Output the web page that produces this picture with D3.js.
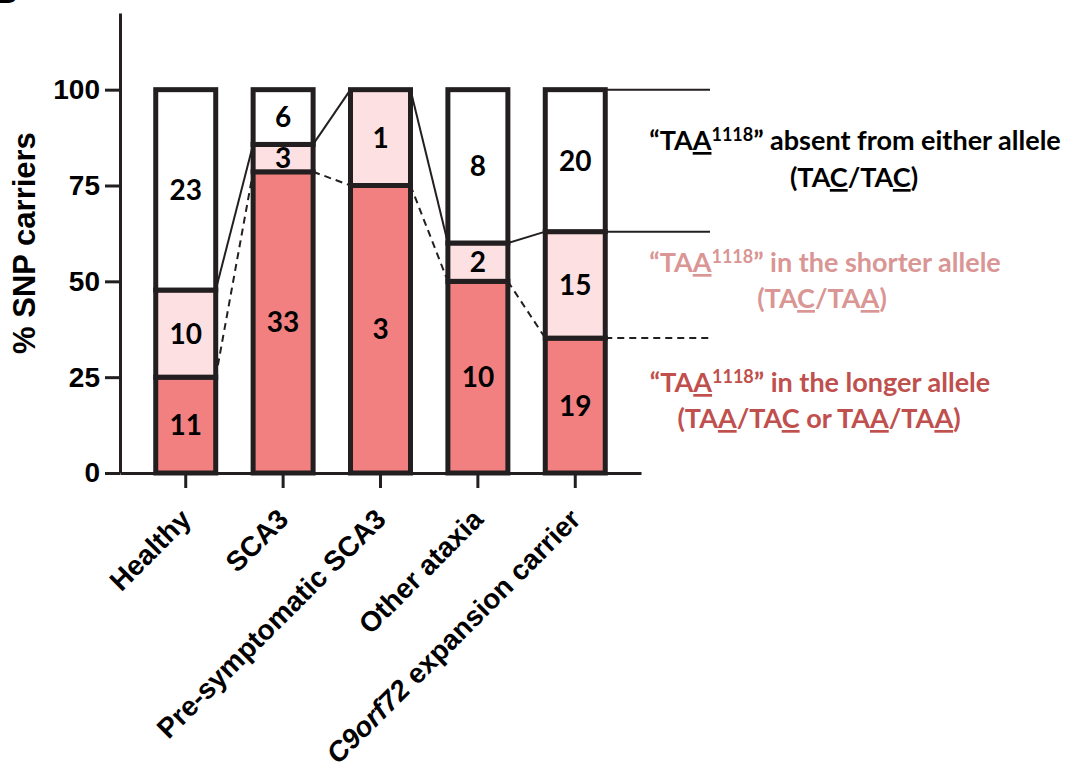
<!DOCTYPE html>
<html>
<head>
<meta charset="utf-8">
<script src="https://cdn.jsdelivr.net/npm/d3@7"></script>
<style>
  body { margin: 0; background: #fff; }
  svg { display: block; }
</style>
</head>
<body>
<div id="chart"></div>
<script>
// counts per group
var categories = ['Healthy', 'SCA3', 'Pre-symptomatic SCA3', 'Other ataxia', 'C9orf72 expansion carrier'];
var longerAllele = [11, 33, 3, 10, 19];   // TAA in the longer allele
var shorterAllele = [10, 3, 1, 2, 15];    // TAA in the shorter allele
var absentAllele = [23, 6, 0, 8, 20];     // TAA absent from either allele
var yTicks = [0, 25, 50, 75, 100];
var yTitle = '% SNP carriers';

// legend text, pieces: u = underlined, sup = superscript
var legendAbsent = [
  [{ t: '\u201CTA' }, { t: 'A', u: true }, { t: '1118', sup: true }, { t: '\u201D absent from either allele' }],
  [{ t: '(TA' }, { t: 'C', u: true }, { t: '/TA' }, { t: 'C', u: true }, { t: ')' }]
];
var legendShorter = [
  [{ t: '\u201CTA' }, { t: 'A', u: true }, { t: '1118', sup: true }, { t: '\u201D in the shorter allele' }],
  [{ t: '(TA' }, { t: 'C', u: true }, { t: '/TA' }, { t: 'A', u: true }, { t: ')' }]
];
var legendLonger = [
  [{ t: '\u201CTA' }, { t: 'A', u: true }, { t: '1118', sup: true }, { t: '\u201D in the longer allele' }],
  [{ t: '(TA' }, { t: 'A', u: true }, { t: '/TA' }, { t: 'C', u: true }, { t: ' or TA' }, { t: 'A', u: true }, { t: '/TA' }, { t: 'A', u: true }, { t: ')' }]
];

var W = 1068, H = 770;
var ink = '#231f20';
var colors = { longer: '#f28080', shorter: '#fde0e1', absent: '#ffffff' };
var axisFont = '"Liberation Sans", Arial, sans-serif';
var textFont = 'Lato, "Open Sans", sans-serif';

var svg = d3.select('#chart').append('svg')
    .attr('width', W)
    .attr('height', H);

var x = d3.scaleBand()
    .domain(categories)
    .range([120, 641])
    .paddingInner(0.384)
    .paddingOuter(0.367);
var bw = x.bandwidth();

var y = d3.scaleLinear().domain([0, 120]).range([473, 13]);

var rows = categories.map(function (c, i) {
  return { cat: c, longer: longerAllele[i], shorter: shorterAllele[i], absent: absentAllele[i] };
});
var keys = ['longer', 'shorter', 'absent'];
var stacked = d3.stack().keys(keys).offset(d3.stackOffsetExpand)(rows);

// connecting lines (behind the bars)
var lines = svg.append('g').attr('class', 'links');
function linkLevels(layer, dash) {
  for (var i = 0; i < categories.length - 1; i++) {
    lines.append('line')
        .attr('x1', x(categories[i]) + bw)
        .attr('y1', y(layer[i][1] * 100))
        .attr('x2', x(categories[i + 1]))
        .attr('y2', y(layer[i + 1][1] * 100))
        .attr('stroke', ink)
        .attr('stroke-width', 2)
        .attr('stroke-dasharray', dash);
  }
  var last = categories.length - 1;
  lines.append('line')
      .attr('x1', x(categories[last]) + bw)
      .attr('x2', 710)
      .attr('y1', y(layer[last][1] * 100))
      .attr('y2', y(layer[last][1] * 100))
      .attr('stroke', ink)
      .attr('stroke-width', 2)
      .attr('stroke-dasharray', dash);
}
linkLevels(stacked[0], '7,5');
linkLevels(stacked[1], null);
// top line right of the last bar
var lastCat = categories[categories.length - 1];
lines.append('line')
    .attr('x1', x(lastCat) + bw).attr('x2', 710)
    .attr('y1', y(100)).attr('y2', y(100))
    .attr('stroke', ink).attr('stroke-width', 2);

// stacked bars
var layers = svg.append('g').attr('class', 'bars')
  .selectAll('g')
  .data(stacked)
  .enter().append('g');

layers.selectAll('rect')
  .data(function (d) { return d.map(function (p) { return { key: d.key, p: p }; }); })
  .enter().append('rect')
    .attr('x', function (d) { return x(d.p.data.cat); })
    .attr('y', function (d) { return y(d.p[1] * 100); })
    .attr('width', bw)
    .attr('height', function (d) { return y(d.p[0] * 100) - y(d.p[1] * 100); })
    .attr('fill', function (d) { return colors[d.key]; })
    .attr('stroke', ink)
    .attr('stroke-width', 5);

// counts inside segments
layers.selectAll('text')
  .data(function (d) { return d.map(function (p) { return { key: d.key, p: p }; }); })
  .enter().filter(function (d) { return d.p.data[d.key] > 0; })
  .append('text')
    .attr('x', function (d) { return x(d.p.data.cat) + bw / 2; })
    .attr('y', function (d) { return y((d.p[0] + d.p[1]) * 50); })
    .attr('dy', '0.36em')
    .attr('text-anchor', 'middle')
    .attr('font-family', textFont)
    .attr('font-weight', 700)
    .attr('font-size', 28)
    .attr('fill', '#000')
    .text(function (d) { return d.p.data[d.key]; });

// axes
var yAxis = d3.axisLeft(y).tickValues(yTicks).tickSize(15).tickSizeOuter(0).tickPadding(5);
var gy = svg.append('g')
    .attr('transform', 'translate(120,0)')
    .call(yAxis);
gy.selectAll('path, line').attr('stroke', ink).attr('stroke-width', 3);
gy.selectAll('text')
    .attr('font-family', axisFont)
    .attr('font-weight', 700)
    .attr('font-size', 28)
    .attr('fill', '#000');

var xAxis = d3.axisBottom(x).tickSize(15).tickSizeOuter(0);
var gx = svg.append('g')
    .attr('transform', 'translate(0,' + y(0) + ')')
    .call(xAxis);
gx.selectAll('path, line').attr('stroke', ink).attr('stroke-width', 3);
gx.selectAll('text')
    .attr('font-family', axisFont)
    .attr('font-weight', 700)
    .attr('font-size', 28)
    .attr('fill', '#000')
    .attr('text-anchor', 'end')
    .attr('y', 0)
    .attr('dy', 0)
    .attr('transform', 'translate(7,48) rotate(-45)')
    .each(function (d) {
      if (d.indexOf('C9orf72') === 0) {
        var t = d3.select(this).text('');
        t.append('tspan').attr('font-style', 'italic').text('C9orf72');
        t.append('tspan').text(d.slice(7));
      }
    });

svg.append('text')
    .attr('transform', 'translate(35,243) rotate(-90)')
    .attr('text-anchor', 'middle')
    .attr('font-family', axisFont)
    .attr('font-weight', 700)
    .attr('font-size', 31)
    .text(yTitle);

// legend on the right
function drawLegend(lineSpec, cx, baselines, color) {
  lineSpec.forEach(function (parts, li) {
    var t = svg.append('text')
        .attr('x', cx[li])
        .attr('y', baselines[li])
        .attr('text-anchor', 'middle')
        .attr('font-family', textFont)
        .attr('font-weight', 700)
        .attr('font-size', 27)
        .attr('fill', color);
    var raised = false;
    parts.forEach(function (p) {
      var s = t.append('tspan').text(p.t);
      if (p.u) { s.style('text-decoration', 'underline'); }
      if (p.sup) {
        s.attr('font-size', 18).attr('dy', -9);
        raised = true;
      } else if (raised) {
        s.attr('dy', 9);
        raised = false;
      }
    });
  });
}
drawLegend(legendAbsent, [855, 854], [150, 187], '#000');
drawLegend(legendShorter, [825, 822], [272, 308], '#d99694');
drawLegend(legendLonger, [820, 819], [392, 428], '#c0504d');

// panel letter, mostly cut off at the top edge
svg.append('text')
    .attr('x', -10)
    .attr('y', 3)
    .attr('font-family', axisFont)
    .attr('font-weight', 700)
    .attr('font-size', 40)
    .text('B');
</script>
</body>
</html>
